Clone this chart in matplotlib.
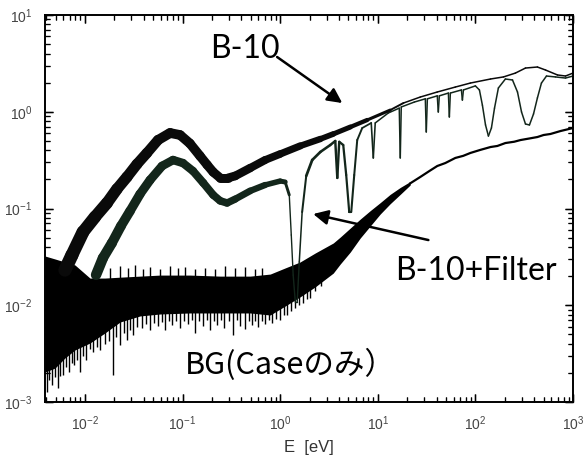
import numpy as np
import matplotlib
matplotlib.use("Agg")
import matplotlib.pyplot as plt
from matplotlib.collections import LineCollection

plt.rcParams["font.family"] = "Liberation Sans"
plt.rcParams["mathtext.fontset"] = "custom"
plt.rcParams["mathtext.rm"] = "Liberation Sans"
plt.rcParams["mathtext.it"] = "Liberation Sans:italic"
plt.rcParams["mathtext.bf"] = "Liberation Sans:bold"
plt.rcParams["axes.linewidth"] = 1.4

# B-10 without filter
b10_e = [0.00624, 0.00736, 0.00955, 0.01267, 0.01683, 0.0213, 0.0270, 0.0342, 0.0432, 0.0561, 0.0745,
         0.0944, 0.119, 0.151, 0.179, 0.206, 0.243, 0.293, 0.346, 0.493, 0.701,
         1.0, 1.60, 2.58, 3.50, 5.23, 7.80, 13.4, 18.3, 27.3, 40.7,
         62.3, 88.9, 143, 194, 257, 326, 432, 523, 693, 838, 1000]
b10_v = [0.0231, 0.0330, 0.0571, 0.0817, 0.114, 0.159, 0.212, 0.288, 0.375, 0.510, 0.603,
         0.575, 0.47, 0.349, 0.282, 0.238, 0.207, 0.207, 0.217, 0.262, 0.317,
         0.366, 0.443, 0.523, 0.589, 0.695, 0.822, 1.04, 1.23, 1.42, 1.60,
         1.80, 1.98, 2.18, 2.29, 2.51, 2.83, 2.90, 2.70, 2.40, 2.34, 2.51]

# B-10 + filter (resonance dips)
flt_e = [0.0130, 0.0153, 0.0189, 0.0234, 0.029, 0.0367, 0.0465, 0.0617, 0.080, 0.101, 0.128,
         0.163, 0.206, 0.243, 0.286, 0.346, 0.493, 0.701, 1.0, 1.126, 1.24,
         1.30, 1.36, 1.43, 1.495, 1.57, 1.68, 1.85, 2.13, 2.58, 3.26,
         3.67, 3.85, 4.03, 4.43, 4.75, 5.10, 5.35, 5.74, 6.16, 6.93,
         8.57, 9.00, 9.42, 12.8, 16.6, 17.0, 17.4, 23.7, 30.7, 31.4,
         32.2, 40.7, 41.7, 42.7, 52.9, 54.1, 55.4, 71.9, 73.6, 75.4,
         100, 110, 118, 127, 136, 146, 157, 172, 203, 240,
         270, 297, 326, 358, 394, 432, 475, 535, 661, 838, 1000]
flt_v = [0.0206, 0.0308, 0.0440, 0.0659, 0.0942, 0.141, 0.197, 0.275, 0.317, 0.295, 0.244,
         0.184, 0.138, 0.120, 0.114, 0.125, 0.152, 0.175, 0.192, 0.188, 0.138,
         0.0532, 0.0205, 0.0108, 0.0108, 0.0280, 0.0920, 0.217, 0.317, 0.384, 0.453,
         0.499, 0.207, 0.489, 0.453, 0.222, 0.0920, 0.0920, 0.222, 0.510, 0.679,
         0.766, 0.333, 0.766, 0.970, 1.09, 0.333, 1.12, 1.26, 1.36, 0.618,
         1.36, 1.46, 0.994, 1.46, 1.56, 0.883, 1.56, 1.68, 1.32, 1.68,
         1.85, 1.68, 1.17, 0.730, 0.561, 0.679, 1.09, 1.76, 2.18, 2.13,
         1.60, 0.994, 0.747, 0.730, 0.948, 1.39, 1.98, 2.34, 2.29, 2.23, 2.34]

# BG (case only): noisy band at low energy, then a single line
bg_e = [0.00389, 0.00493, 0.00624, 0.0079, 0.01126, 0.0160, 0.0229, 0.0367, 0.0588, 0.119,
        0.243, 0.493, 0.791, 1.126, 1.60, 2.29, 3.50, 4.13, 5.23, 6.62,
        8.37, 10.6, 13.4, 17.0, 21.5]
bg_hi = [0.0323, 0.0301, 0.0280, 0.0261, 0.0191, 0.0191, 0.0195, 0.0200, 0.0205, 0.0205,
         0.0200, 0.0200, 0.0210, 0.0243, 0.0280, 0.0347, 0.0440, 0.0507, 0.0628, 0.0778,
         0.0950, 0.115, 0.140, 0.165, 0.190]
bg_lo = [0.00204, 0.00224, 0.00285, 0.00345, 0.00407, 0.00516, 0.00671, 0.00775, 0.00812, 0.00832,
         0.00832, 0.00832, 0.00793, 0.00982, 0.0122, 0.0155, 0.0215, 0.0267, 0.0355, 0.0496,
         0.0659, 0.0877, 0.112, 0.140, 0.175]
bg_dn_e = [0.00408, 0.00433, 0.00459, 0.00495, 0.00528, 0.00560, 0.00595, 0.00640, 0.00686, 0.00730,
           0.00771, 0.00830, 0.00889, 0.00960, 0.01026, 0.0112, 0.0121, 0.0132, 0.01426, 0.0160,
           0.0176, 0.01937, 0.0210, 0.02288, 0.0250, 0.0270, 0.0290, 0.0311, 0.0340, 0.0385,
           0.0420, 0.0465, 0.0510, 0.0561, 0.0610, 0.0662, 0.0720, 0.0781, 0.0860, 0.0944,
           0.104, 0.114, 0.124, 0.134, 0.148, 0.163, 0.176, 0.191, 0.208, 0.226,
           0.245, 0.267, 0.298, 0.330, 0.360, 0.389, 0.438, 0.475, 0.516, 0.555,
           0.596, 0.650, 0.701, 0.760, 0.828, 0.910, 1.0, 1.09, 1.18, 1.30,
           1.43, 1.57, 1.72, 1.87, 2.03, 2.30, 2.60, 2.90]
bg_dn_v = [0.00127, 0.00170, 0.0015, 0.00180, 0.0014, 0.00185, 0.0019, 0.00230, 0.00204, 0.00250,
           0.00241, 0.00270, 0.00204, 0.00300, 0.00272, 0.00350, 0.00329, 0.00370, 0.00345, 0.00400,
           0.00430, 0.0019, 0.00470, 0.00388, 0.00520, 0.00438, 0.00560, 0.00493, 0.00600, 0.00582,
           0.00640, 0.00555, 0.00660, 0.00611, 0.00670, 0.00555, 0.00680, 0.00625, 0.00690, 0.00582,
           0.00690, 0.0064, 0.00700, 0.00516, 0.00690, 0.00611, 0.00700, 0.00555, 0.00690, 0.00625,
           0.00700, 0.00582, 0.00690, 0.00493, 0.00700, 0.00611, 0.00569, 0.00690, 0.00625, 0.00680,
           0.00597, 0.00690, 0.0064, 0.00700, 0.00656, 0.00720, 0.00705, 0.00800, 0.00793, 0.00880,
           0.00937, 0.01000, 0.01054, 0.01150, 0.0119, 0.0140, 0.0160, 0.0190]
bg_up_e = [0.01807, 0.02288, 0.0276, 0.0326, 0.0394, 0.0465, 0.0588, 0.0745, 0.0900, 0.106,
           0.134, 0.170, 0.216, 0.273, 0.346, 0.438, 0.555, 0.654]
bg_up_v = [0.0243, 0.0255, 0.0243, 0.0261, 0.0237, 0.0249, 0.0237, 0.0255, 0.0243, 0.0249,
           0.0237, 0.0243, 0.0237, 0.0255, 0.0243, 0.0249, 0.0237, 0.0243]
bgl_e = [21.5, 27.3, 34.0, 40.7, 49.2, 62.3, 75.0, 88.9, 112, 143, 168, 203, 250, 290, 360, 432, 500, 587, 745, 1000]
bgl_v = [0.182, 0.212, 0.245, 0.275, 0.295, 0.333, 0.350, 0.375, 0.403, 0.432,
         0.443, 0.475, 0.490, 0.510, 0.530, 0.548, 0.575, 0.589, 0.632, 0.679]


def draw_trace(ax, e, v, wx, ww, color):
    # line whose width follows the noise band of the scan
    e = np.asarray(e, float)
    v = np.asarray(v, float)
    pts = np.column_stack([e, v])
    segs = np.stack([pts[:-1], pts[1:]], axis=1)
    mid = 0.5 * (np.log10(e[:-1]) + np.log10(e[1:]))
    lw = np.interp(mid, wx, ww)
    lc = LineCollection(segs, linewidths=lw, colors=color, capstyle="round", joinstyle="round")
    ax.add_collection(lc)


fig = plt.figure(figsize=(5.85, 4.62), dpi=100)
ax = fig.add_axes([45 / 585, 60 / 462, 528 / 585, 387 / 462])
ax.set_xscale("log")
ax.set_yscale("log")
ax.set_xlim(3.9e-3, 1e3)
ax.set_ylim(1e-3, 1e1)

# BG band
ax.fill_between(bg_e, bg_lo, bg_hi, color="k", lw=0)
lx = np.log10(bg_e)
dn_base = 10 ** np.interp(np.log10(bg_dn_e), lx, np.log10(bg_lo)) * 1.2
up_base = 10 ** np.interp(np.log10(bg_up_e), lx, np.log10(bg_hi)) * 0.85
ax.vlines(bg_dn_e, bg_dn_v, dn_base, color="k", lw=1.0)
ax.vlines(bg_up_e, up_base, bg_up_v, color="k", lw=1.0)
ax.plot(bgl_e, bgl_v, color="k", lw=1.6)

draw_trace(ax, flt_e, flt_v,
           [-1.85, -1.4, -0.6, -0.2, 0.05, 0.09, 0.2, 0.3, 0.55, 1.0],
           [7.5, 6.5, 5.5, 4.5, 3.5, 1.0, 1.0, 2.0, 1.8, 1.1], "#13261b")
draw_trace(ax, b10_e, b10_v,
           [-2.15, -1.6, -1.1, -0.6, 0.2, 0.9, 1.15, 1.35],
           [9.5, 8, 7, 6.5, 5, 2.8, 1.5, 1.1], "#0a0a0a")

ax.tick_params(which="both", direction="in", top=True, right=True, color="black")
ax.tick_params(which="major", length=6, width=1.0, pad=9, labelsize=10, labelcolor="#444444")
ax.tick_params(which="minor", length=3.5, width=0.8)
ax.set_xlabel("E  [eV]", fontsize=12, color="#333333", labelpad=5)

ax.text(0.3125, 0.889, "B-10", transform=ax.transAxes, fontsize=23, family="Lato", va="baseline")
ax.text(0.663, 0.315, "B-10+Filter", transform=ax.transAxes, fontsize=23, family="Lato", va="baseline")
ax.text(0.265, 0.072, "BG(Caseのみ）", transform=ax.transAxes, fontsize=22,
        family="Noto Sans CJK JP", va="baseline")

arrow = dict(arrowstyle="-|>", color="k", lw=1.8, mutation_scale=22, shrinkA=0, shrinkB=0)
ax.annotate("", xy=(4.33, 1.23), xytext=(0.931, 3.68), arrowprops=arrow)
ax.annotate("", xy=(2.18, 0.0877), xytext=(33.0, 0.0472), arrowprops=arrow)

# inward tick marks on all four sides, at the axis' own tick locations
fig.canvas.draw()
x0, x1 = ax.get_xlim()
y0, y1 = ax.get_ylim()
xs = [(t, 0.021) for t in ax.xaxis.get_majorticklocs() if x0 <= t <= x1]
xs += [(t, 0.0125) for t in ax.xaxis.get_minorticklocs() if x0 <= t <= x1]
ys = [(t, 0.0157) for t in ax.yaxis.get_majorticklocs() if y0 <= t <= y1]
ys += [(t, 0.0093) for t in ax.yaxis.get_minorticklocs() if y0 <= t <= y1]
xsegs = [[(t, 0), (t, L)] for t, L in xs] + [[(t, 1), (t, 1 - L)] for t, L in xs]
ysegs = [[(0, t), (L, t)] for t, L in ys] + [[(1, t), (1 - L, t)] for t, L in ys]
ax.add_collection(LineCollection(xsegs, transform=ax.get_xaxis_transform(), colors="k",
                                 linewidths=0.9, clip_on=False, zorder=4), autolim=False)
ax.add_collection(LineCollection(ysegs, transform=ax.get_yaxis_transform(), colors="k",
                                 linewidths=0.9, clip_on=False, zorder=4), autolim=False)

fig.savefig("out.png", dpi=100)
